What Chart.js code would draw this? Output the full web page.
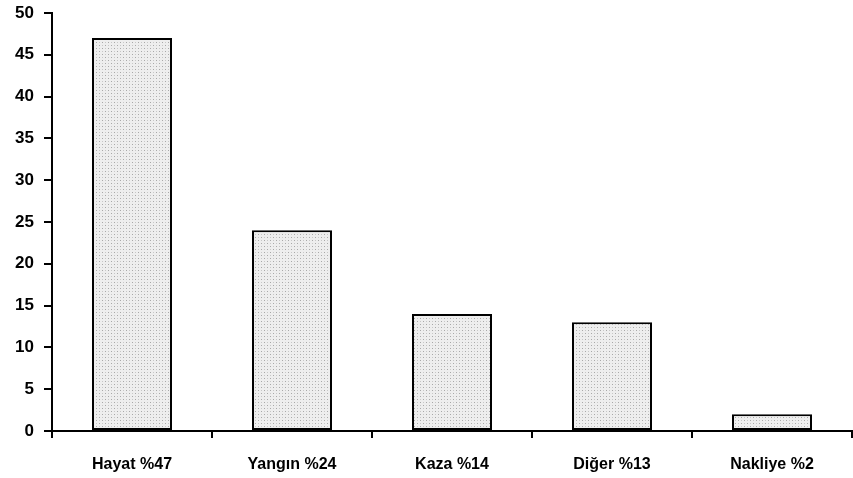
<!DOCTYPE html>
<html><head><meta charset="utf-8">
<script src="https://cdn.jsdelivr.net/npm/chart.js@4/dist/chart.umd.min.js"></script>
<style>html,body{margin:0;padding:0;background:#fff}#w{width:853px;height:478px}</style>
</head><body><div id="w"><canvas id="c"></canvas></div>
<script>
const categories = ["Hayat %47", "Yangın %24", "Kaza %14", "Diğer %13", "Nakliye %2"];
const values = [47, 24, 14, 13, 2];
const yTicks = [0, 5, 10, 15, 20, 25, 30, 35, 40, 45, 50];

function makePattern() {
  const p = document.createElement('canvas');
  p.width = 6; p.height = 6;
  const g = p.getContext('2d');
  g.fillStyle = '#eeeeee'; g.fillRect(0, 0, 6, 6);
  g.fillStyle = '#a8a8a8';
  g.fillRect(0, 0, 1, 1); g.fillRect(3, 3, 1, 1);
  g.fillStyle = '#c8c8c8';
  g.fillRect(3, 0, 1, 1); g.fillRect(0, 3, 1, 1);
  return document.getElementById('c').getContext('2d').createPattern(p, 'repeat');
}

const fam = "'Liberation Sans', Arial, sans-serif";
new Chart(document.getElementById('c'), {
  type: 'bar',
  data: { labels: categories, datasets: [{ data: values, backgroundColor: makePattern(), borderColor: '#000', borderWidth: 2, borderSkipped: false, categoryPercentage: 1, barPercentage: 0.5 }] },
  options: {
    responsive: true, maintainAspectRatio: false, animation: false,
    layout: { padding: { top: 13, right: 1, left: 0, bottom: 0 } },
    plugins: { legend: { display: false }, tooltip: { enabled: false } },
    scales: {
      x: {
        offset: true,
        grid: { offset: true, drawOnChartArea: false, color: '#000', lineWidth: 2, tickLength: 7 },
        border: { color: '#000', width: 2 },
        ticks: { color: '#000', font: { family: fam, size: 16, weight: 'bold' }, padding: 17, maxRotation: 0 },
        afterFit: s => { s.height = 47; s.paddingLeft = 0; s.paddingRight = 0; }
      },
      y: {
        min: 0, max: 50,
        afterBuildTicks: s => { s.ticks = yTicks.map(v => ({ value: v })); },
        grid: { drawOnChartArea: false, color: '#000', lineWidth: 2, tickLength: 8 },
        border: { color: '#000', width: 2 },
        ticks: { color: '#000', font: { family: fam, size: 17, weight: 'bold' }, padding: 10 },
        afterFit: s => { s.width = 52; s.paddingTop = 0; s.paddingBottom = 0; }
      }
    }
  }
});
</script></body></html>
